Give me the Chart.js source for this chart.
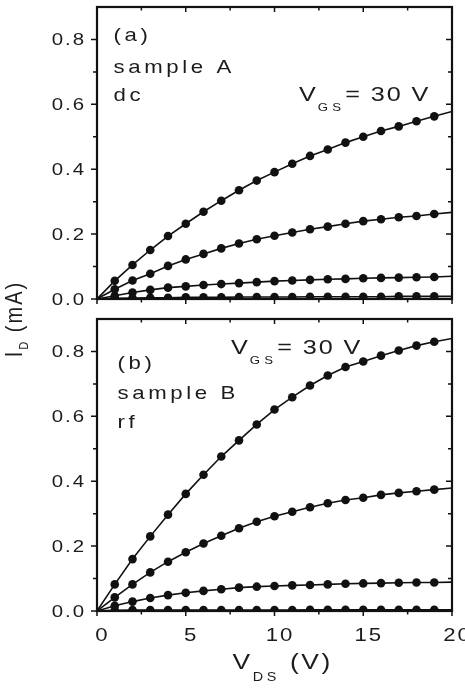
<!DOCTYPE html>
<html lang="en">
<head>
  <meta charset="UTF-8">
  <title>Output characteristics, samples A and B</title>
  <script src="https://cdn.jsdelivr.net/npm/chart.js"></script>
  <style>
    html, body { margin: 0; padding: 0; background: #fff; overflow: hidden; }
    body { width: 465px; height: 689px; position: relative; }
    canvas { position: absolute; left: 0; }
    #chartA { top: 0; }
    #chartB { top: 310px; }
  </style>
</head>
<body>
  <canvas id="chartA" width="480" height="310"></canvas>
  <canvas id="chartB" width="480" height="379"></canvas>

  <script>
    // drain voltage (V) of every sample
    const vds = [0, 1, 2, 3, 4, 5, 6, 7, 8, 9, 10, 11, 12, 13, 14, 15, 16, 17, 18, 19, 20];

    // sample A, dc -- drain current (mA), highest curve is VGS = 30 V
    const aGate30 = [0, 0.056, 0.105, 0.151, 0.194, 0.232, 0.269, 0.303, 0.335, 0.365, 0.391, 0.417, 0.441, 0.461, 0.482, 0.500, 0.518, 0.532, 0.548, 0.563, 0.578];
    const aGate2 = [0, 0.030, 0.057, 0.078, 0.102, 0.122, 0.139, 0.156, 0.171, 0.184, 0.195, 0.205, 0.215, 0.223, 0.232, 0.240, 0.246, 0.252, 0.256, 0.262, 0.267];
    const aGate3 = [0, 0.010, 0.020, 0.028, 0.035, 0.039, 0.043, 0.046, 0.049, 0.052, 0.055, 0.057, 0.059, 0.061, 0.062, 0.064, 0.065, 0.066, 0.067, 0.068, 0.070];
    const aGate4 = [0, 0.002, 0.003, 0.004, 0.004, 0.005, 0.005, 0.005, 0.006, 0.006, 0.006, 0.006, 0.007, 0.007, 0.007, 0.007, 0.007, 0.008, 0.008, 0.008, 0.008];

    // sample B, rf
    const bGate30 = [0, 0.082, 0.160, 0.230, 0.297, 0.361, 0.420, 0.476, 0.526, 0.575, 0.621, 0.659, 0.695, 0.726, 0.752, 0.769, 0.787, 0.803, 0.818, 0.830, 0.840];
    const bGate2 = [0, 0.042, 0.082, 0.119, 0.152, 0.181, 0.208, 0.232, 0.255, 0.275, 0.292, 0.306, 0.320, 0.332, 0.342, 0.349, 0.358, 0.364, 0.369, 0.374, 0.379];
    const bGate3 = [0, 0.016, 0.029, 0.040, 0.049, 0.056, 0.062, 0.067, 0.072, 0.075, 0.077, 0.079, 0.080, 0.082, 0.084, 0.085, 0.086, 0.087, 0.088, 0.088, 0.089];
    const bGate4 = [0, 0.002, 0.003, 0.003, 0.003, 0.003, 0.003, 0.003, 0.003, 0.003, 0.003, 0.003, 0.004, 0.004, 0.004, 0.004, 0.004, 0.004, 0.004, 0.004, 0.004];

    // axis ticks
    const xTicks = [0, 5, 10, 15, 20];
    const xMinor = [2.5, 7.5, 12.5, 17.5];
    const yTicks = [0, 0.2, 0.4, 0.6, 0.8];
    const yMinor = [0.1, 0.3, 0.5, 0.7];

    const FONT = '"Liberation Sans", Arial, sans-serif';
    const INK = '#111';
    const TEXT = '#1c1c1c';
    const WIDE = 1.2; // lettering of the original is drawn a bit wide

    // draw a run of text pieces (for subscripts), optionally rotated / stretched
    function drawParts(ctx, parts, x, y, opt) {
      ctx.save();
      ctx.translate(x, y);
      if (opt.rotate) ctx.rotate(opt.rotate);
      ctx.scale(opt.sx || 1, opt.sy || 1);
      ctx.fillStyle = TEXT;
      ctx.textAlign = 'left';
      ctx.textBaseline = 'alphabetic';
      const setFont = p => {
        ctx.font = p.size + 'px ' + FONT;
        ctx.letterSpacing = (p.ls !== undefined ? p.ls : opt.ls || 0) + 'px';
      };
      const widths = parts.map(p => { setFont(p); return ctx.measureText(p.t).width; });
      const total = widths.reduce((s, w) => s + w, 0) - (opt.ls || 0);
      let cx = 0;
      if (opt.align === 'center') cx = -total / 2;
      if (opt.align === 'right') cx = -total;
      parts.forEach((p, i) => {
        setFont(p);
        ctx.fillText(p.t, cx, p.dy || 0);
        cx += widths[i];
      });
      ctx.restore();
    }

    // text written in page coordinates; each canvas shows its own part
    const notesPlugin = {
      id: 'notes',
      afterDraw(chart, args, opts) {
        opts.items.forEach(it => drawParts(chart.ctx, it.parts, it.x, it.y - opts.offsetY, it));
      }
    };

    // tick labels placed from the chart's own scales
    const tickLabelPlugin = {
      id: 'tickLabels',
      afterDraw(chart, args, opts) {
        const { ctx, chartArea: a } = chart;
        const x = chart.scales.x, y = chart.scales.y;
        y.ticks.forEach(t => {
          drawParts(ctx, [{ t: t.value.toFixed(1), size: 17 }], 84, y.getPixelForValue(t.value) + 6,
            { align: 'right', sx: WIDE, ls: 1.6 });
        });
        if (!opts.showX) return;
        x.ticks.forEach(t => {
          drawParts(ctx, [{ t: String(t.value), size: 18.5 }], x.getPixelForValue(t.value) + 4.5, a.bottom + 30,
            { align: 'center', sx: WIDE, ls: 1.5 });
        });
      }
    };

    // boxed frame with ticks: outward on bottom/left, inward on top/right
    const framePlugin = {
      id: 'frame',
      afterDraw(chart) {
        const { ctx, chartArea: a } = chart;
        const x = chart.scales.x, y = chart.scales.y;
        ctx.save();
        ctx.strokeStyle = INK;
        ctx.lineWidth = 1.5;
        ctx.beginPath();
        const xt = (v, len) => {
          const p = x.getPixelForValue(v);
          ctx.moveTo(p, a.bottom); ctx.lineTo(p, a.bottom + len);
          ctx.moveTo(p, a.top); ctx.lineTo(p, a.top + len);
        };
        const yt = (v, len) => {
          const p = y.getPixelForValue(v);
          ctx.moveTo(a.left, p); ctx.lineTo(a.left - len, p);
          ctx.moveTo(a.right, p); ctx.lineTo(a.right - len, p);
        };
        xTicks.forEach(v => xt(v, 5));
        xMinor.forEach(v => xt(v, 3.5));
        yTicks.forEach(v => yt(v, 6));
        yMinor.forEach(v => yt(v, 4));
        ctx.stroke();
        ctx.lineWidth = 2.2;
        ctx.strokeRect(a.left, a.top, a.right - a.left, a.bottom - a.top);
        ctx.restore();
      }
    };

    function curve(values) {
      return {
        data: vds.map((v, i) => ({ x: v, y: values[i] })),
        borderColor: INK,
        borderWidth: 1.6,
        backgroundColor: INK,
        pointBackgroundColor: INK,
        pointBorderWidth: 0,
        pointRadius: c => (c.dataIndex === 0 || c.dataIndex === vds.length - 1) ? 0 : 4.3,
        tension: 0
      };
    }

    const yTitle = {
      parts: [{ t: 'I', size: 20 }, { t: 'D', size: 11, dy: 5 }, { t: ' (mA)', size: 20 }],
      x: 22, y: 320, rotate: -Math.PI / 2, align: 'center', sy: WIDE, ls: 2
    };

    function makeChart(id, sets, opt) {
      return new Chart(document.getElementById(id), {
        type: 'line',
        data: { datasets: sets.map(curve) },
        plugins: [framePlugin, tickLabelPlugin, notesPlugin],
        options: {
          responsive: false,
          animation: false,
          events: [],
          layout: { padding: { top: opt.top, right: 28, left: 0, bottom: 0 } },
          plugins: {
            legend: { display: false },
            tooltip: { enabled: false },
            tickLabels: { showX: opt.xLabels },
            notes: { offsetY: opt.offsetY, items: opt.notes.concat([yTitle]) }
          },
          scales: {
            x: {
              type: 'linear', min: 0, max: 20,
              grid: { display: false }, border: { display: false },
              afterBuildTicks: s => { s.ticks = xTicks.map(v => ({ value: v })); },
              afterFit: s => { s.height = opt.xHeight; },
              ticks: { display: false }
            },
            y: {
              min: 0, max: 0.9,
              grid: { display: false }, border: { display: false },
              afterBuildTicks: s => { s.ticks = yTicks.map(v => ({ value: v })); },
              afterFit: s => { s.width = 97; },
              ticks: { display: false }
            }
          }
        }
      });
    }

    const vgs = (x, y) => ({
      parts: [{ t: 'V', size: 21 }, { t: 'GS', size: 11, dy: 9.5, ls: 3.5 }, { t: '= 30 V', size: 21 }],
      x: x, y: y, sx: WIDE, ls: 1.6
    });
    const note = (t, x, y) => ({ parts: [{ t: t, size: 18.5 }], x: x, y: y, sx: WIDE, ls: 3 });

    makeChart('chartA', [aGate30, aGate2, aGate3, aGate4], {
      top: 7, xHeight: 11, xLabels: false, offsetY: 0,
      notes: [note('(a)', 113.5, 41), note('sample A', 113.5, 73), note('dc', 113.5, 101), vgs(299, 101)]
    });

    makeChart('chartB', [bGate30, bGate2, bGate3, bGate4], {
      top: 9, xHeight: 78, xLabels: true, offsetY: 310,
      notes: [note('(b)', 117.5, 369), note('sample B', 117.5, 399), note('rf', 117.5, 428), vgs(231, 354),
        { parts: [{ t: 'V', size: 22 }, { t: 'DS', size: 12, dy: 12, ls: 3 }, { t: ' (V)', size: 22 }],
          x: 232.5, y: 669, sx: WIDE, ls: 2.2 }]
    });
  </script>
</body>
</html>
